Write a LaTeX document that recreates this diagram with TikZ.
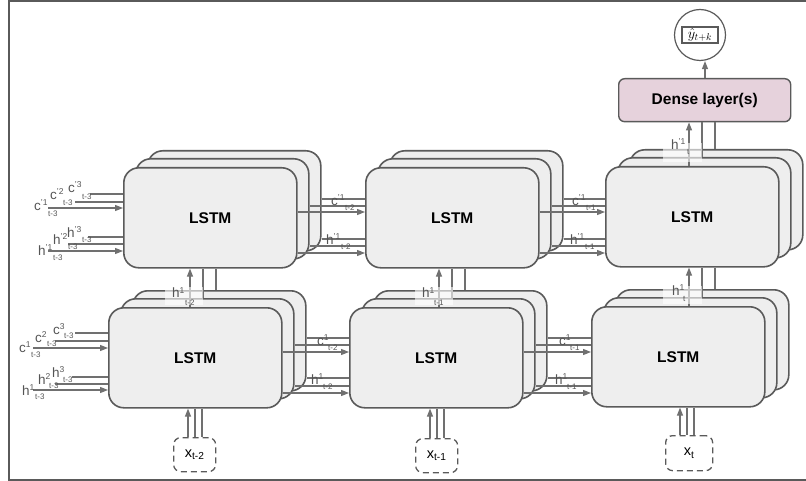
\documentclass[tikz,border=0pt]{standalone}
\usepackage{fontspec}
\setmainfont{Liberation Sans}
\usetikzlibrary{arrows.meta,calc}
\definecolor{boxfill}{HTML}{EEEEEE}
\definecolor{boxline}{HTML}{5A5A5A}
\definecolor{lnc}{HTML}{707070}
\definecolor{txt}{HTML}{555555}
\definecolor{densefill}{HTML}{E6D2DC}

\newcommand\supr[1]{\raisebox{5pt}{\fontsize{8.5}{8.5}\selectfont #1}}

\newcommand\lstmstack[3]{%
  \node[lstm] (#1-b) at ({#2+24},{#3-17}) {};
  \node[lstm] (#1-m) at ({#2+12},{#3-9}) {};
  \node[lstm, font=\bfseries\fontsize{15.5}{15.5}\selectfont] (#1-f) at (#2,#3) {LSTM};
}
% horizontal triple connector: from, to, three offsets below front top
\newcommand\threelines[5]{%
  \coordinate (#1#2p1) at ([yshift=-#3pt]#1-f.north east);
  \coordinate (#1#2p2) at ([yshift=-#4pt]#1-f.north east);
  \coordinate (#1#2p3) at ([yshift=-#5pt]#1-f.north east);
  \draw[ln] (#1#2p1 -| #1-b.east) -- (#1#2p1 -| #2-f.west);
  \draw[ln] (#1#2p2 -| #1-m.east) -- (#1#2p2 -| #2-f.west);
  \draw[arr] (#1#2p3) -- (#1#2p3 -| #2-f.west);
}
% vertical triple connector: from stack, to stack, x of arrow
\newcommand\vlines[3]{%
  \coordinate (#1#2q1) at (#3,0);
  \coordinate (#1#2q2) at ({#3+13},0);
  \coordinate (#1#2q3) at ({#3+26},0);
  \draw[arr] (#1#2q1 |- #1-f.north) -- (#1#2q1 |- #2-f.south);
  \draw[ln] (#1#2q2 |- #1-m.north) -- (#1#2q2 |- #2-f.south);
  \draw[ln] (#1#2q3 |- #1-b.north) -- (#1#2q3 |- #2-f.south);
}
% input line: name, x, y, target node, style
\newcommand\inln[5]{%
  \coordinate (#1) at (#2,#3);
  \draw[#5] (#1) -- (#1 -| #4.west);
}
% label: name, x, y, main text, subdx, subdy, sub
\newcommand\lbl[7]{%
  \node[lab] (#1) at (#2,#3) {#4};
  \node[sublab] (#1s) at ({#2+#5},{#3+#6}) {#7};
}

\begin{document}
\begin{tikzpicture}[x=1pt,y=-1pt,
  lstm/.style={draw=boxline, fill=boxfill, line width=1.6pt, rounded corners=15pt,
    minimum width=173pt, minimum height=100pt, anchor=north west, inner sep=0pt},
  ln/.style={draw=lnc, line width=1.1pt},
  arr/.style={ln, -{Triangle[length=8pt,width=6pt]}},
  lab/.style={text=txt, font=\fontsize{13.5}{13.5}\selectfont, anchor=base west, inner sep=0pt},
  sublab/.style={text=txt, font=\fontsize{8}{8}\selectfont, anchor=base west, inner sep=0pt},
  hl/.style={fill=white, fill opacity=0.6, draw=none},
  xbox/.style={draw=boxline, line width=1.3pt, dash pattern=on 6pt off 4pt,
    rounded corners=7pt, anchor=north west, inner sep=0pt, text=black,
    font=\fontsize{14.5}{14.5}\selectfont},
]
\useasboundingbox (0,0) rectangle (806,481);
\draw[boxline, line width=1.5pt] (810,0.8) -- (8.8,0.8) -- (8.8,480) -- (810,480);

% LSTM stacks
\lstmstack{tl}{123}{167}
\lstmstack{tm}{365}{167}
\lstmstack{tr}{605}{166}
\lstmstack{bl}{108}{307}
\lstmstack{bm}{349}{307}
\lstmstack{br}{591}{306}

% dense layer and output
\node[draw=boxline, fill=densefill, line width=1.4pt, rounded corners=6pt,
  minimum width=172pt, minimum height=43pt, anchor=north west,
  font=\bfseries\fontsize{15.5}{15.5}\selectfont] (dense) at (618,78) {Dense layer(s)};
\node[draw=boxline, circle, line width=1.2pt, minimum size=51pt, inner sep=0pt] (out) at (700,35) {};
\node[draw=boxline, line width=1.4pt, inner sep=1.5pt, minimum width=36pt, minimum height=16pt,
  font=\fontsize{14}{14}\selectfont] (yhat) at (out.center) {$\hat{y}_{t+k}$};
\coordinate (dk) at (705,0);
\draw[arr] (dk |- dense.north) -- (dk |- out.south);

% horizontal connectors
\threelines{tl}{tm}{32}{39}{45}
\threelines{tl}{tm}{72}{79}{86}
\threelines{tm}{tr}{32}{39}{45}
\threelines{tm}{tr}{72}{79}{86}
\threelines{bl}{bm}{31}{38}{45}
\threelines{bl}{bm}{71}{79}{86}
\threelines{bm}{br}{31}{38}{45}
\threelines{bm}{br}{71}{79}{86}

% vertical connectors
\vlines{bl}{tl}{190}
\vlines{bm}{tm}{439}
\vlines{br}{tr}{689}
\coordinate (dq1) at (689,0);
\coordinate (dq2) at (702,0);
\coordinate (dq3) at (715,0);
\draw[arr] (dq1 |- tr-f.north) -- (dq1 |- dense.south);
\draw[ln] (dq2 |- tr-m.north) -- (dq2 |- dense.south);
\draw[ln] (dq3 |- tr-b.north) -- (dq3 |- dense.south);

% left inputs
\inln{a1}{90}{194}{tl-f}{ln}
\inln{a2}{75}{202}{tl-f}{ln}
\inln{a3}{48}{208}{tl-f}{arr}
\inln{a4}{88}{237}{tl-f}{ln}
\inln{a5}{68}{244}{tl-f}{ln}
\inln{a6}{48}{251}{tl-f}{arr}
\inln{b1}{75}{333}{bl-f}{ln}
\inln{b2}{55}{341}{bl-f}{ln}
\inln{b3}{33}{348}{bl-f}{arr}
\inln{b4}{72}{377}{bl-f}{ln}
\inln{b5}{55}{384}{bl-f}{ln}
\inln{b6}{33}{390}{bl-f}{arr}

% x inputs
\node[xbox, minimum width=42pt, minimum height=34pt] (xl) at (173,437) {x\textsubscript{t-2}};
\node[xbox, minimum width=42pt, minimum height=34pt] (xm) at (415,438) {x\textsubscript{t-1}};
\node[xbox, minimum width=47pt, minimum height=35pt] (xr) at (665,435) {x\textsubscript{t}};
\foreach \n/\s/\a in {xl/bl/188, xm/bm/430, xr/br/680}{
  \coordinate (\n c1) at (\a,0);
  \coordinate (\n c2) at ({\a+7},0);
  \coordinate (\n c3) at ({\a+14},0);
  \draw[arr] (\n c1 |- \n.north) -- (\n c1 |- \s-f.south);
  \draw[ln] (\n c2 |- \n.north) -- (\n c2 |- \s-f.south);
  \draw[ln] (\n c3 |- \n.north) -- (\n c3 |- \s-f.south);
}

% highlight patches
\fill[hl] (165,287) rectangle (203,305);
\fill[hl] (415,287) rectangle (453,305);
\fill[hl] (663,286) rectangle (702,304);
\fill[hl] (663,143) rectangle (702,162);

% labels: top-left inputs
\lbl{la1}{34}{211}{c\supr{'1}}{14}{6}{t-3}
\lbl{la2}{50}{200}{c\supr{'2}}{13}{6}{t-3}
\lbl{la3}{68}{193}{c\supr{'3}}{14}{7}{t-3}
\lbl{la4}{38}{255}{h\supr{'1}}{15}{6}{t-3}
\lbl{la5}{53}{244}{h\supr{'2}}{15}{6}{t-3}
\lbl{la6}{67}{237}{h\supr{'3}}{15}{6}{t-3}
% bottom-left inputs
\lbl{lb1}{19}{352}{c\supr{1}}{12}{5}{t-3}
\lbl{lb2}{35}{342}{c\supr{2}}{12}{4}{t-3}
\lbl{lb3}{53}{334}{c\supr{3}}{11}{4}{t-3}
\lbl{lb4}{22}{395}{h\supr{1}}{13}{4}{t-3}
\lbl{lb5}{38}{384}{h\supr{2}}{11}{4}{t-3}
\lbl{lb6}{52}{377}{h\supr{3}}{11}{5}{t-3}
% between boxes
\lbl{lc1}{331}{206}{c\supr{'1}}{14}{5}{t-2}
\lbl{lc2}{326}{244}{h\supr{'1}}{15}{6}{t-2}
\lbl{lc3}{572}{206}{c\supr{'1}}{14}{5}{t-1}
\lbl{lc4}{570}{244}{h\supr{'1}}{15}{6}{t-1}
\lbl{lc5}{317}{345}{c\supr{1}}{11}{5}{t-2}
\lbl{lc6}{311}{384}{h\supr{1}}{12}{5}{t-2}
\lbl{lc7}{559}{345}{c\supr{1}}{11}{5}{t-1}
\lbl{lc8}{555}{384}{h\supr{1}}{12}{5}{t-1}
% vertical labels
\lbl{ld1}{172}{298}{h\supr{1}}{13}{7}{t-2}
\lbl{ld2}{422}{298}{h\supr{1}}{12}{7}{t-1}
\lbl{ld3}{672}{295}{h\supr{1}}{11}{6}{t}
\lbl{ld4}{671}{150}{h\supr{'1}}{16}{5}{t}
\end{tikzpicture}
\end{document}
